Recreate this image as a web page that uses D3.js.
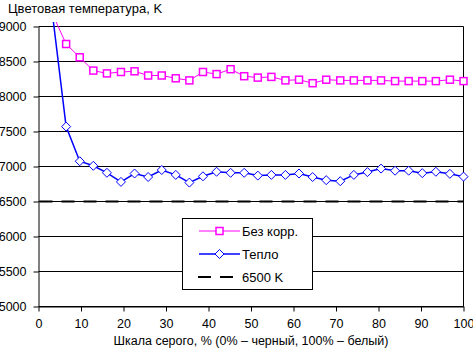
<!DOCTYPE html>
<html>
<head>
<meta charset="utf-8">
<script src="https://cdn.jsdelivr.net/npm/d3@7"></script>
<style>
  html, body { margin: 0; padding: 0; background: #fff; }
  svg { display: block; font-family: "Liberation Sans", Arial, sans-serif; }
</style>
</head>
<body>
<svg id="chart" width="473" height="349"></svg>
<script>
// ---- data ----
const grayLevels = [3.2, 6.5, 9.7, 12.9, 16.1, 19.4, 22.6, 25.8, 29.0, 32.3, 35.5, 38.7, 41.9, 45.2, 48.4, 51.6,
                    54.8, 58.1, 61.3, 64.5, 67.7, 71.0, 74.2, 77.4, 80.6, 83.9, 87.1, 90.3, 93.5, 96.8, 100];
const noCorrection = [9190, 8750, 8560, 8370, 8330, 8350, 8360, 8300, 8300, 8260, 8230, 8350, 8320, 8390, 8290, 8270,
                      8280, 8230, 8240, 8190, 8240, 8230, 8230, 8230, 8230, 8220, 8220, 8220, 8220, 8240, 8220];
const warm = [9220, 7570, 7075, 7010, 6910, 6780, 6900, 6850, 6950, 6880, 6770, 6860, 6925, 6910, 6910, 6870,
              6880, 6880, 6900, 6850, 6805, 6790, 6880, 6920, 6970, 6940, 6940, 6905, 6925, 6895, 6855];
const referenceTemp = 6500;
const xTicks = [0, 10, 20, 30, 40, 50, 60, 70, 80, 90, 100];
const yTicks = [5000, 5500, 6000, 6500, 7000, 7500, 8000, 8500, 9000];
const seriesNames = ["Без корр.", "Тепло", "6500 K"];
const yTitle = "Цветовая температура, K";
const xTitle = "Шкала серого, % (0% – черный, 100% – белый)";

// ---- chart ----
const svg = d3.select("#chart");
const x = d3.scaleLinear().domain([0, 100]).range([38.5, 463.5]);
const y = d3.scaleLinear().domain([5000, 9000]).range([306.5, 26.5]);
const FS = 12.5;

// gridlines
svg.append("g").selectAll("line").data(yTicks).join("line")
  .attr("x1", x(0)).attr("x2", x(100))
  .attr("y1", d => y(d)).attr("y2", d => y(d))
  .attr("stroke", "#000").attr("stroke-width", 1);

// right border
svg.append("line").attr("x1", x(100)).attr("x2", x(100)).attr("y1", y(9000)).attr("y2", y(5000))
  .attr("stroke", "#000");

// y axis
const yAxis = d3.axisLeft(y).tickValues(yTicks).tickSize(5).tickSizeOuter(0).tickPadding(7).tickFormat(d3.format("d"));
const gy = svg.append("g").attr("transform", `translate(${x(0)},0)`).call(yAxis);
gy.select(".domain").attr("stroke", "#000");
gy.selectAll("text").attr("font-size", FS).attr("fill", "#000").attr("font-family", null);

// x axis
const xAxis = d3.axisBottom(x).tickValues(xTicks).tickSize(5).tickSizeOuter(0).tickPadding(8).tickFormat(d3.format("d"));
const gx = svg.append("g").attr("transform", `translate(0,${y(5000)})`).call(xAxis);
gx.select(".domain").attr("stroke", "#000");
gx.selectAll("text").attr("font-size", FS).attr("fill", "#000").attr("font-family", null);

// titles
svg.append("text").attr("x", 8).attr("y", 13).attr("font-size", 13).attr("fill", "#000").text(yTitle);
svg.append("text").attr("x", (x(0) + x(100)) / 2).attr("y", 345).attr("text-anchor", "middle")
  .attr("font-size", FS).attr("fill", "#000").text(xTitle);

// clip
svg.append("clipPath").attr("id", "clip").append("rect")
  .attr("x", 30).attr("y", 22).attr("width", 443).attr("height", 300);

const plot = svg.append("g").attr("clip-path", "url(#clip)");

// 6500 reference dashed
plot.append("line").attr("x1", x(0)).attr("x2", x(100)).attr("y1", y(referenceTemp)).attr("y2", y(referenceTemp))
  .attr("stroke", "#000").attr("stroke-width", 2).attr("stroke-dasharray", "13,9").attr("stroke-dashoffset", -1);

const line = d3.line().x(d => x(d[0])).y(d => y(d[1]));
const pinkData = grayLevels.map((g, i) => [g, noCorrection[i]]);
const blueData = grayLevels.map((g, i) => [g, warm[i]]);

plot.append("path").datum(pinkData).attr("d", line).attr("fill", "none").attr("stroke", "#ff00ff").attr("stroke-width", 1);
plot.append("path").datum(blueData).attr("d", line).attr("fill", "none").attr("stroke", "#0000ff").attr("stroke-width", 1.5);

const sq = 7;
plot.append("g").selectAll("rect").data(pinkData).join("rect")
  .attr("x", d => x(d[0]) - sq / 2).attr("y", d => y(d[1]) - sq / 2)
  .attr("width", sq).attr("height", sq)
  .attr("fill", "#fff").attr("stroke", "#ff00ff").attr("stroke-width", 1.5);

const dm = 4.5;
plot.append("g").selectAll("path").data(blueData).join("path")
  .attr("d", d => {
    const cx = x(d[0]), cy = y(d[1]);
    return `M${cx},${cy - dm}L${cx + dm},${cy}L${cx},${cy + dm}L${cx - dm},${cy}Z`;
  })
  .attr("fill", "#fff").attr("stroke", "#0000ff").attr("stroke-width", 1);

// legend
const lg = svg.append("g");
lg.append("rect").attr("x", 182.5).attr("y", 218.5).attr("width", 130).attr("height", 71)
  .attr("fill", "#fff").attr("stroke", "#000").attr("stroke-width", 1);
const rows = [231, 254, 277];
// pink
lg.append("line").attr("x1", 199).attr("x2", 240).attr("y1", rows[0]).attr("y2", rows[0]).attr("stroke", "#ff00ff");
lg.append("rect").attr("x", 219.5 - sq / 2).attr("y", rows[0] - sq / 2).attr("width", sq).attr("height", sq)
  .attr("fill", "#fff").attr("stroke", "#ff00ff").attr("stroke-width", 1.5);
// blue
lg.append("line").attr("x1", 199).attr("x2", 240).attr("y1", rows[1]).attr("y2", rows[1]).attr("stroke", "#0000ff").attr("stroke-width", 1.5);
lg.append("path").attr("d", `M219.5,${rows[1] - dm}L${219.5 + dm},${rows[1]}L219.5,${rows[1] + dm}L${219.5 - dm},${rows[1]}Z`)
  .attr("fill", "#fff").attr("stroke", "#0000ff");
// dashed
lg.append("line").attr("x1", 198).attr("x2", 233).attr("y1", rows[2]).attr("y2", rows[2])
  .attr("stroke", "#000").attr("stroke-width", 2).attr("stroke-dasharray", "13,9");
lg.selectAll("text.lbl").data(seriesNames).join("text").attr("class", "lbl")
  .attr("x", 242).attr("y", (d, i) => rows[i]).attr("dy", "0.35em")
  .attr("font-size", 13).attr("fill", "#000").text(d => d);
</script>
</body>
</html>
